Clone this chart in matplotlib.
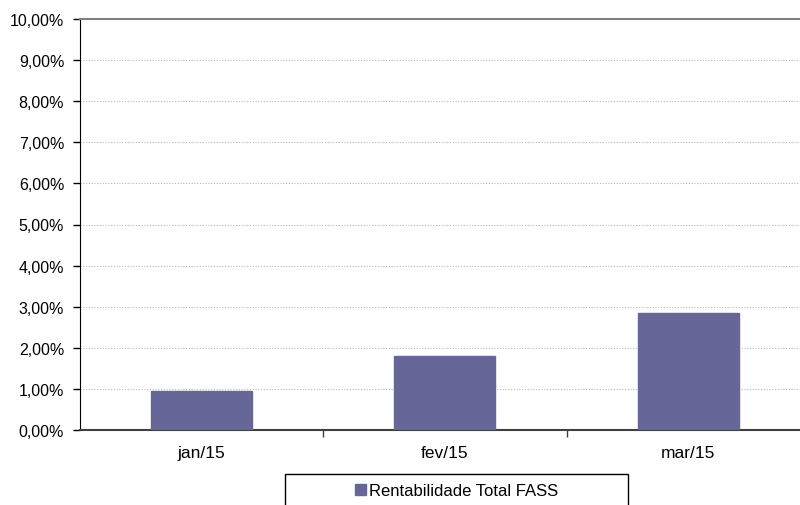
import matplotlib.pyplot as plt
from matplotlib.patches import Rectangle
from matplotlib.ticker import FuncFormatter, MultipleLocator

# data (values in %)
meses = ['jan/15', 'fev/15', 'mar/15']
rentabilidade = [0.96, 1.79, 2.84]
serie = 'Rentabilidade Total FASS'

plt.rcParams['font.family'] = ['Liberation Sans', 'DejaVu Sans']
cor = '#666699'

W, H = 800, 506
fig = plt.figure(figsize=(W / 100, H / 100), dpi=100)
# plot area runs slightly past the right edge of the picture
ax = fig.add_axes([79.5 / W, 1 - 431 / H, (810 - 79.5) / W, (431 - 20) / H])

x = list(range(len(meses)))
ax.bar(x, rentabilidade, width=0.415, color=cor, edgecolor=cor, zorder=3, label=serie)

ax.set_xlim(-0.5, len(meses) - 0.5)
ax.set_ylim(0, 10)
ax.yaxis.set_major_locator(MultipleLocator(1))
ax.yaxis.set_major_formatter(FuncFormatter(lambda v, p: ('%.2f%%' % v).replace('.', ',')))
ax.set_xticks(x)
ax.set_xticklabels(meses)
ax.set_xticks([i + 0.5 for i in x[:-1]], minor=True)
ax.tick_params(axis='x', which='major', length=0, pad=11, labelsize=12.5)
ax.tick_params(axis='x', which='minor', length=5, width=1, color='#404040', direction='out')
ax.tick_params(axis='y', length=5, width=1, color='black', labelsize=11.5, pad=6)

ax.grid(axis='y', color='#b8b8b8', linestyle=(0, (1, 1.5)), linewidth=0.8, zorder=0)
ax.spines['top'].set_color('#808080')
ax.spines['top'].set_linewidth(1.5)
ax.spines['right'].set_visible(False)
ax.spines['left'].set_color('black')
ax.spines['bottom'].set_color('#404040')
ax.spines['bottom'].set_linewidth(1.5)

# legend box along the bottom
fig.patches.append(Rectangle((285 / W, -0.02), (628 - 285) / W, 1 - 475 / H + 0.02,
                             transform=fig.transFigure, fill=False,
                             edgecolor='black', linewidth=1))
fig.legend(loc='center', bbox_to_anchor=(456.5 / W, 1 - 492 / H), frameon=False,
           fontsize=12, handlelength=0.65, handleheight=0.65, handletextpad=0.15)

fig.savefig('out.png', dpi=100)
